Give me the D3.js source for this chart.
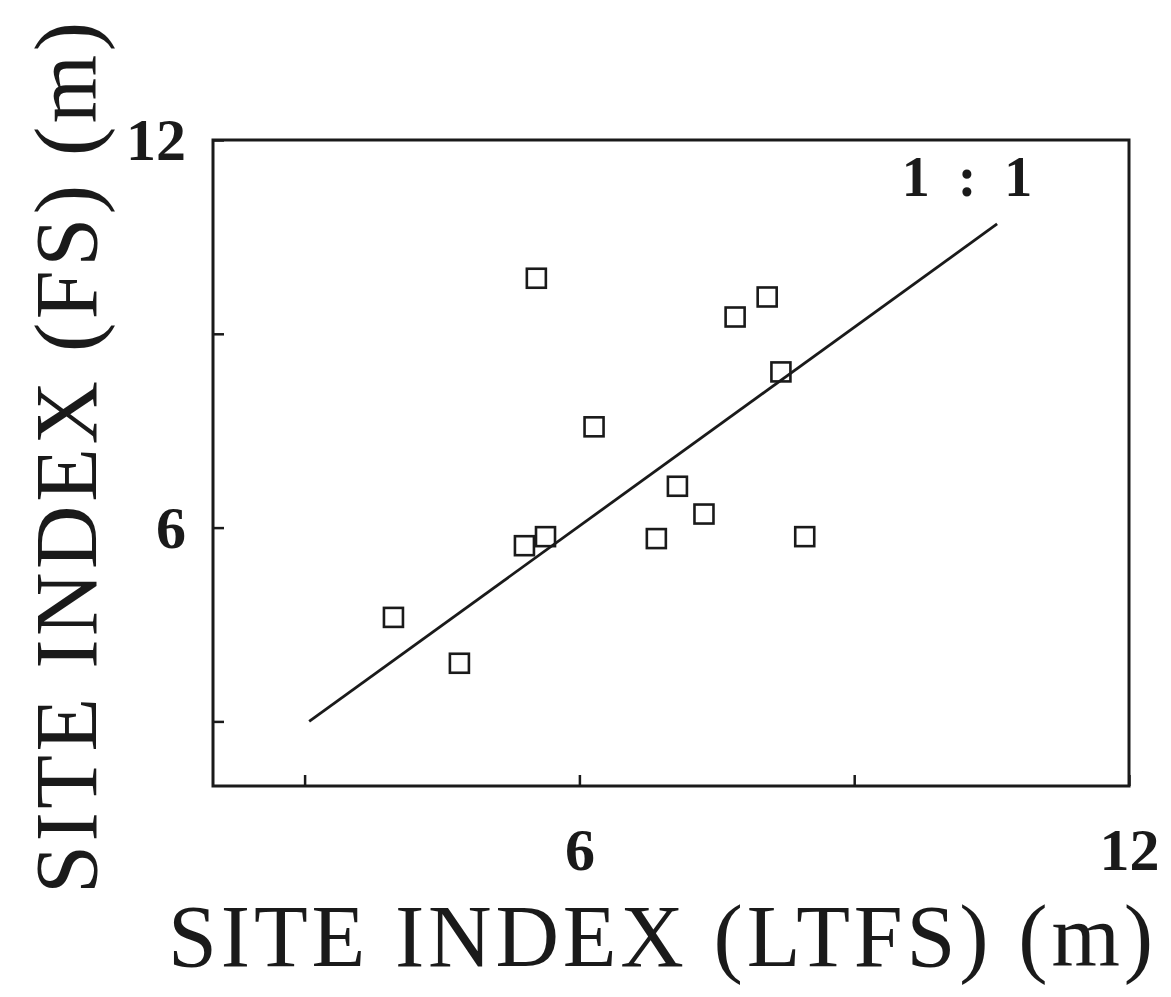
<!DOCTYPE html>
<html>
<head>
<meta charset="utf-8">
<script src="https://cdn.jsdelivr.net/npm/d3@7"></script>
<style>
  html, body { margin: 0; padding: 0; background: #fff; }
  svg { display: block; }
</style>
</head>
<body>
<svg id="chart" width="1171" height="997"></svg>
<script>
// Site index: long-term field study (LTFS) vs. field survey (FS), metres
const ltfs = [3.97, 4.69, 5.40, 5.63, 5.53, 6.16, 6.84, 7.07, 7.36, 7.70, 8.05, 8.20, 8.46];
const fs   = [4.61, 3.90, 5.72, 5.86, 9.86, 7.56, 5.83, 6.64, 6.21, 9.26, 9.57, 8.41, 5.86];

// 1:1 reference line end points
const refX = [3.05, 10.56];
const refY = [3.0, 10.7];

const tickValues = [3, 6, 9, 12];
const tickLabels = ["", "6", "", "12"];

const xTitle = "SITE INDEX (LTFS) (m)";
const yTitle = "SITE INDEX (FS) (m)";
const refLabel = "1 : 1";

const frame = { left: 213, right: 1129, top: 140, bottom: 786 };

const svg = d3.select("#chart");
const ink = "#1a1a1a";
const serif = "'Liberation Serif', serif";

const x = d3.scaleLinear().domain([2, 12]).range([frame.left, frame.right]);
const y = d3.scaleLinear().domain([2, 12]).range([frame.bottom, frame.top]);

// Plot frame
svg.append("rect")
  .attr("x", frame.left).attr("y", frame.top)
  .attr("width", frame.right - frame.left)
  .attr("height", frame.bottom - frame.top)
  .attr("fill", "none").attr("stroke", ink).attr("stroke-width", 3);

const labelFmt = d => tickLabels[tickValues.indexOf(d)];

// Bottom axis: inward ticks
const gx = svg.append("g")
  .attr("transform", `translate(0,${frame.bottom})`)
  .call(d3.axisBottom(x).tickValues(tickValues).tickFormat(labelFmt)
    .tickSizeInner(-11).tickSizeOuter(0));
gx.select(".domain").remove();
gx.selectAll(".tick line").attr("stroke", ink).attr("stroke-width", 2.5);
gx.selectAll(".tick text")
  .attr("y", 84).attr("dy", 0)
  .attr("fill", ink)
  .style("font-family", serif)
  .style("font-weight", "bold")
  .style("font-size", "60px");

// Left axis: inward ticks
const gy = svg.append("g")
  .attr("transform", `translate(${frame.left},0)`)
  .call(d3.axisLeft(y).tickValues(tickValues).tickFormat(labelFmt)
    .tickSizeInner(-11).tickSizeOuter(0));
gy.select(".domain").remove();
gy.selectAll(".tick line").attr("stroke", ink).attr("stroke-width", 2.5);
gy.selectAll(".tick text")
  .attr("x", -27).attr("dy", "0.33em")
  .attr("fill", ink)
  .style("font-family", serif)
  .style("font-weight", "bold")
  .style("font-size", "60px");

// 1:1 line
const line = d3.line().x(d => x(d[0])).y(d => y(d[1]));
svg.append("path")
  .datum(d3.zip(refX, refY))
  .attr("d", line)
  .attr("fill", "none").attr("stroke", ink).attr("stroke-width", 2.8);

svg.append("text")
  .attr("x", 967).attr("y", 196)
  .attr("text-anchor", "middle")
  .attr("fill", ink)
  .style("font-family", serif)
  .style("font-weight", "bold")
  .style("font-size", "56px")
  .style("white-space", "pre")
  .text(refLabel.replace(/ /g, "\u00a0\u00a0"));

// Data points: open squares
const side = 19;
svg.append("g").selectAll("rect")
  .data(d3.zip(ltfs, fs))
  .join("rect")
  .attr("x", d => x(d[0]) - side / 2)
  .attr("y", d => y(d[1]) - side / 2)
  .attr("width", side).attr("height", side)
  .attr("fill", "none").attr("stroke", ink).attr("stroke-width", 2.6);

// Axis titles
svg.append("text")
  .attr("x", 168).attr("y", 966)
  .attr("textLength", 985)
  .attr("lengthAdjust", "spacing")
  .attr("fill", ink)
  .style("font-family", serif)
  .style("font-size", "88px")
  .text(xTitle);

svg.append("text")
  .attr("transform", "translate(96,894) rotate(-90)")
  .attr("textLength", 872)
  .attr("lengthAdjust", "spacing")
  .attr("fill", ink)
  .style("font-family", serif)
  .style("font-size", "88px")
  .text(yTitle);
</script>
</body>
</html>
